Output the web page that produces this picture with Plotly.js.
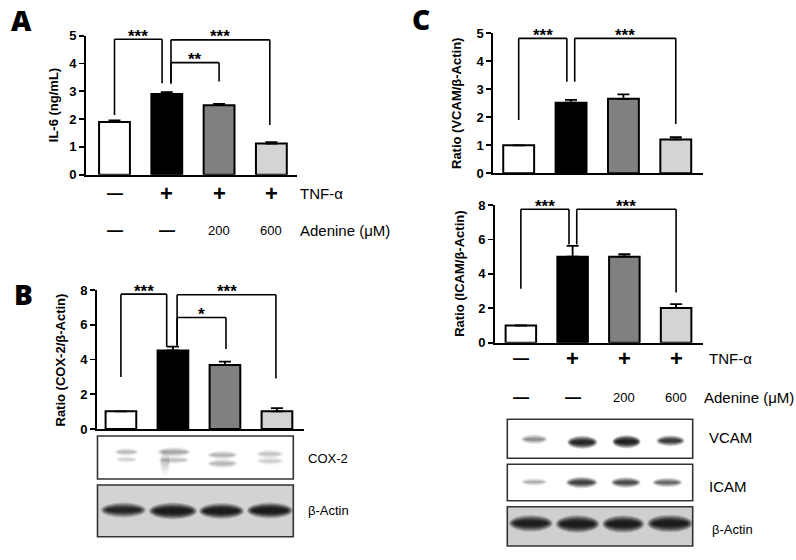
<!DOCTYPE html>
<html><head><meta charset="utf-8">
<script src="https://cdn.plot.ly/plotly-3.0.1.min.js"></script>
<style>html,body{margin:0;padding:0;background:#fff}#chart{width:796px;height:560px}</style>
</head><body><div id="chart"></div>
<script>
// ---------- DATA ----------
const groups = ['Control', 'TNF-α', 'TNF-α + Adenine 200 μM', 'TNF-α + Adenine 600 μM'];
const il6 = [1.9, 2.9, 2.5, 1.12];
const il6Err = [0.05, 0.07, 0.05, 0.05];
const cox2 = [1.02, 4.52, 3.68, 1.02];
const cox2Err = [0, 0.22, 0.2, 0.18];
const vcam = [1.0, 2.52, 2.66, 1.21];
const vcamErr = [0, 0.1, 0.16, 0.08];
const icam = [1.0, 5.0, 5.0, 2.02];
const icamErr = [0, 0.62, 0.14, 0.22];
const tnfRow = ['—', '+', '+', '+'];
const adenineRow = ['—', '—', '200', '600'];
const sigA = ['***', '**', '***'];
const sigB = ['***', '*', '***'];
const sigC = ['***', '***'];

// ---------- STYLE / LAYOUT ----------
const W = 796, H = 560;
const FONT = 'Liberation Sans, Arial, sans-serif';
const fills = ['#ffffff', '#000000', '#808080', '#d4d4d4'];
const px = x => x / W, py = y => 1 - y / H;
const idx = [0, 1, 2, 3];

const panels = [
  {ax: '', vals: il6, err: il6Err, xdom: [86, 297], xr: [-0.545, 3.49], ydom: [174.7, 35.7], yr: [0, 5], dt: 1,
   title: 'IL-6 (ng/mL)', tx: 53, sig: sigA,
   br: [[0, 0.91, 4.87, 2.15, 3.29], [1.08, 2.0, 4.03, 3.28, 3.35], [1.08, 2.97, 4.85, 3.28, 1.79]]},
  {ax: '2', vals: cox2, err: cox2Err, xdom: [97, 304], xr: [-0.46, 3.52], ydom: [429, 290], yr: [0, 8], dt: 2,
   title: 'Ratio (COX-2/β-Actin)', tx: 60, sig: sigB,
   br: [[0, 0.88, 7.76, 3.0, 4.73], [1.08, 2.02, 6.42, 4.8, 4.6], [1.08, 2.98, 7.73, 4.8, 2.9]]},
  {ax: '3', vals: vcam, err: vcamErr, xdom: [493.3, 703], xr: [-0.485, 3.52], ydom: [173.3, 33.3], yr: [0, 5], dt: 1,
   title: 'Ratio (VCAM/β-Actin)', tx: 456.7, sig: sigC,
   br: [[0, 0.92, 4.82, 1.9, 3.27], [1.07, 3.0, 4.82, 3.27, 1.76]]},
  {ax: '4', vals: icam, err: icamErr, xdom: [495, 703], xr: [-0.5, 3.52], ydom: [342.7, 205], yr: [0, 8], dt: 2,
   title: 'Ratio (ICAM/β-Actin)', tx: 460, sig: sigC,
   br: [[0, 0.93, 7.75, 3.13, 5.7], [1.08, 3.0, 7.75, 5.7, 2.92]]}
];

const traces = [], shapes = [], annotations = [];
const layout = {
  width: W, height: H, margin: {l: 0, r: 0, t: 0, b: 0},
  paper_bgcolor: '#fff', plot_bgcolor: 'rgba(0,0,0,0)', showlegend: false,
  font: {family: FONT, color: '#000'}
};

panels.forEach(p => {
  const xa = 'x' + p.ax, ya = 'y' + p.ax;
  layout['xaxis' + p.ax] = {
    domain: [px(p.xdom[0]), px(p.xdom[1])], range: p.xr, anchor: ya,
    showline: true, linewidth: 2, linecolor: '#000', showticklabels: false, ticks: '',
    showgrid: false, zeroline: false, fixedrange: true
  };
  layout['yaxis' + p.ax] = {
    domain: [py(p.ydom[0]), py(p.ydom[1])], range: p.yr, anchor: xa,
    showline: true, linewidth: 2, linecolor: '#000', ticks: 'outside', ticklen: 5, tickwidth: 1.8,
    tickcolor: '#000', tick0: 0, dtick: p.dt, showgrid: false, zeroline: false, fixedrange: true,
    tickfont: {family: FONT, size: 13, color: '#000', weight: 'bold'}
  };
  traces.push({
    type: 'bar', x: idx, y: p.vals, xaxis: xa, yaxis: ya, width: 0.59,
    customdata: groups, hovertemplate: '%{customdata}: %{y}<extra></extra>',
    marker: {color: fills, line: {color: '#000', width: 2}},
    error_y: {type: 'data', array: p.err, arrayminus: [0, 0, 0, 0], symmetric: false,
              color: '#000', thickness: 1.8, width: 6}
  });
  annotations.push({
    xref: 'paper', yref: 'paper', x: px(p.tx), y: py((p.ydom[0] + p.ydom[1]) / 2),
    text: p.title, textangle: -90, showarrow: false, xanchor: 'center', yanchor: 'middle',
    font: {family: FONT, size: 13, weight: 'bold', color: '#000'}
  });
  p.br.forEach((b, i) => {
    const [xl, xr, top, bl, brr] = b;
    const ln = {type: 'line', xref: xa, yref: ya, line: {color: '#000', width: 1.6}};
    shapes.push(Object.assign({}, ln, {x0: xl, x1: xl, y0: bl, y1: top}));
    shapes.push(Object.assign({}, ln, {x0: xl, x1: xr, y0: top, y1: top}));
    shapes.push(Object.assign({}, ln, {x0: xr, x1: xr, y0: brr, y1: top}));
    annotations.push({
      xref: xa, yref: ya, x: (xl + xr) / 2, y: top, text: p.sig[i], showarrow: false,
      xanchor: 'center', yanchor: 'middle', yshift: 3,
      font: {family: FONT, size: 17, weight: 'bold', color: '#000'}
    });
  });
});

// treatment rows
function rows(xa, yT, yA, labX, labX2) {
  idx.forEach(i => {
    const isPlus = tnfRow[i] === '+';
    annotations.push({xref: xa, yref: 'paper', x: i, y: py(yT), text: tnfRow[i], showarrow: false,
      xanchor: 'center', yanchor: 'middle',
      font: {family: FONT, size: isPlus ? 22 : 16, weight: 'bold', color: '#000'}});
    const isDash = adenineRow[i] === '—';
    annotations.push({xref: xa, yref: 'paper', x: i, y: py(yA), text: adenineRow[i], showarrow: false,
      xanchor: 'center', yanchor: 'middle',
      font: {family: FONT, size: isDash ? 16 : 13, weight: isDash ? 'bold' : 'normal', color: '#000'}});
  });
  annotations.push({xref: 'paper', yref: 'paper', x: px(labX), y: py(yT), text: 'TNF-α', showarrow: false,
    xanchor: 'left', yanchor: 'middle', font: {family: FONT, size: 15, color: '#000'}});
  annotations.push({xref: 'paper', yref: 'paper', x: px(labX2), y: py(yA), text: 'Adenine (μM)', showarrow: false,
    xanchor: 'left', yanchor: 'middle', font: {family: FONT, size: 15, color: '#000'}});
}
rows('x', 193, 230, 298, 298);
rows('x4', 358.3, 397, 707, 701.7);

// panel letters
[['A', 9, 20], ['B', 12, 294], ['C', 410, 19]].forEach(([t, x, y]) => {
  annotations.push({xref: 'paper', yref: 'paper', x: px(x), y: py(y), text: t, showarrow: false,
    xanchor: 'left', yanchor: 'middle', font: {family: 'Open Sans, Liberation Sans, sans-serif', size: 28, weight: 800, color: '#000'}});
});

// blot labels
[['COX-2', 306, 458, 13], ['β-Actin', 306, 510, 13], ['VCAM', 707, 437, 15], ['ICAM', 707, 486.7, 15], ['β-Actin', 710, 529, 13]]
  .forEach(([t, x, y, s]) => annotations.push({xref: 'paper', yref: 'paper', x: px(x), y: py(y), text: t,
    showarrow: false, xanchor: 'left', yanchor: 'middle', font: {family: FONT, size: s, color: '#000'}}));

// ---------- western blot drawings ----------
function box(x0, y0, x1, y1, fill) {
  shapes.push({type: 'rect', xref: 'paper', yref: 'paper', x0: px(x0), x1: px(x1), y0: py(y1), y1: py(y0),
    fillcolor: fill, line: {color: '#333', width: 1.6}, layer: 'above'});
}
function band(x0, x1, cy, hh, k, c) {
  c = c || '20,20,20';
  const cx = (x0 + x1) / 2, hw = (x1 - x0) / 2;
  const N = 7;
  for (let j = 0; j < N; j++) {
    const t = j / (N - 1);
    const sw = 1.06 - 0.3 * t, sh = 1.7 - 1.3 * t, a = (0.06 + 0.12 * t) * k;
    shapes.push({type: 'circle', xref: 'paper', yref: 'paper',
      x0: px(cx - hw * sw), x1: px(cx + hw * sw), y0: py(cy + hh * sh), y1: py(cy - hh * sh),
      fillcolor: `rgba(${c},${Math.min(0.9, a).toFixed(3)})`, line: {width: 0}, layer: 'above'});
  }
}
// Panel B blots
box(97.5, 436, 293.3, 479, '#ffffff');
band(115, 138, 452, 2.6, 0.55, '90,90,90'); band(116, 137, 459.5, 2.2, 0.35, '90,90,90');
band(158, 190, 452, 3, 0.75, '80,80,80'); band(159, 189, 460, 2.6, 0.5, '90,90,90');
band(160, 170, 462, 9, 0.35, '90,90,90');
band(208, 237, 455, 2.8, 0.65, '90,90,90'); band(208, 237, 463.5, 3, 0.6, '90,90,90');
band(257, 283, 454, 2.8, 0.5, '100,100,100'); band(257, 283, 461, 2.6, 0.4, '100,100,100');
box(97.5, 485, 293.3, 536.7, '#d3d3d3');
band(101.7, 145, 510, 4.5, 2.4); band(150, 196, 511, 5, 3); band(200, 243, 511, 4.8, 3); band(248, 291.7, 510.5, 4.8, 3);
// Panel C blots
box(507.3, 419.3, 692.7, 458.3, '#ffffff');
band(521.7, 546.7, 439.3, 3, 0.9, '60,60,60');
band(568, 596.7, 442.3, 4, 2.4); band(613, 640, 441.7, 4, 2.7); band(657, 684, 440.7, 3.4, 1.8);
box(507.3, 464.3, 692.7, 500.7, '#ffffff');
band(521.7, 546.7, 482, 2.4, 0.6, '70,70,70'); band(566.7, 596.7, 482.5, 3.5, 1.7); band(611.7, 640, 482.5, 3.3, 1.5); band(653, 681.7, 482.5, 3, 1.1);
box(507.3, 506.7, 692.7, 546, '#cfcfcf');
band(510, 551.7, 523.3, 5, 2.8); band(556.7, 598.3, 524, 5.3, 3); band(603.3, 643.3, 524, 5.2, 3); band(648.3, 691.7, 523.5, 5.2, 3);

layout.shapes = shapes;
layout.annotations = annotations;
Plotly.newPlot('chart', traces, layout, {displayModeBar: false, staticPlot: true});
</script></body></html>
